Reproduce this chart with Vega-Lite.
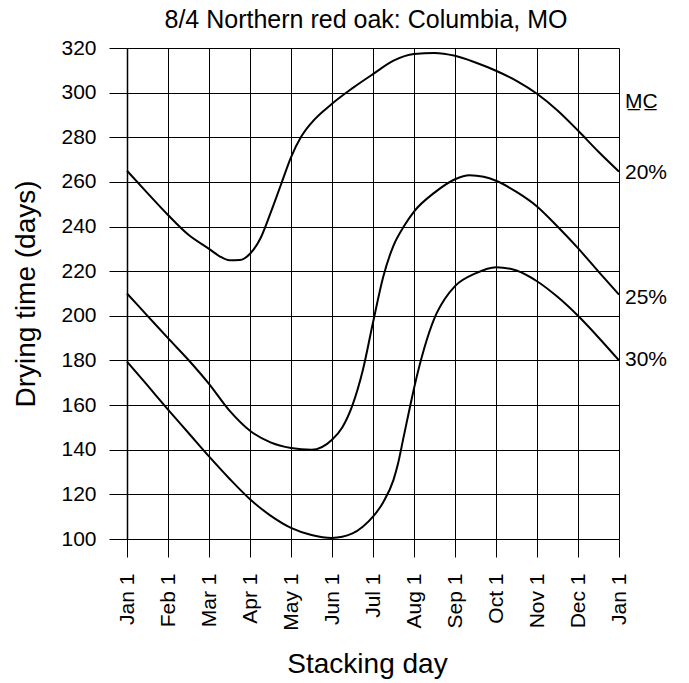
{
  "$schema": "https://vega.github.io/schema/vega-lite/v6.json",
  "width": 492,
  "height": 491,
  "autosize": "none",
  "padding": {"left": 127, "top": 48, "right": 70, "bottom": 144},
  "background": "white",
  "config": {"view": {"stroke": null}, "font": "Liberation Sans"},
  "title": {"text": "8/4 Northern red oak: Columbia, MO", "fontSize": 25, "fontWeight": "normal", "font": "Liberation Sans", "color": "black", "anchor": "middle", "baseline": "bottom", "offset": -21, "dx": -7},
  "datasets": {
    "curves": [
      {"mc": "20%", "month": 0, "days": 265},
      {"mc": "20%", "month": 0.5, "days": 255},
      {"mc": "20%", "month": 1, "days": 245.2},
      {"mc": "20%", "month": 1.5, "days": 236.3},
      {"mc": "20%", "month": 2, "days": 230},
      {"mc": "20%", "month": 2.25, "days": 226.8},
      {"mc": "20%", "month": 2.5, "days": 224.9},
      {"mc": "20%", "month": 2.75, "days": 225},
      {"mc": "20%", "month": 3, "days": 227.8},
      {"mc": "20%", "month": 3.25, "days": 234.5},
      {"mc": "20%", "month": 3.5, "days": 246},
      {"mc": "20%", "month": 3.75, "days": 258.5},
      {"mc": "20%", "month": 4, "days": 271},
      {"mc": "20%", "month": 4.25, "days": 280.3},
      {"mc": "20%", "month": 4.5, "days": 286.5},
      {"mc": "20%", "month": 5, "days": 295},
      {"mc": "20%", "month": 5.5, "days": 302},
      {"mc": "20%", "month": 6, "days": 308.3},
      {"mc": "20%", "month": 6.5, "days": 314.3},
      {"mc": "20%", "month": 7, "days": 317.3},
      {"mc": "20%", "month": 7.5, "days": 317.8},
      {"mc": "20%", "month": 8, "days": 316.5},
      {"mc": "20%", "month": 8.5, "days": 313.5},
      {"mc": "20%", "month": 9, "days": 309.8},
      {"mc": "20%", "month": 9.5, "days": 305.3},
      {"mc": "20%", "month": 10, "days": 299.5},
      {"mc": "20%", "month": 10.5, "days": 292},
      {"mc": "20%", "month": 11, "days": 283},
      {"mc": "20%", "month": 11.5, "days": 273.5},
      {"mc": "20%", "month": 12, "days": 264.6},
      {"mc": "25%", "month": 0, "days": 210},
      {"mc": "25%", "month": 0.5, "days": 200},
      {"mc": "25%", "month": 1, "days": 190},
      {"mc": "25%", "month": 1.5, "days": 180.2},
      {"mc": "25%", "month": 2, "days": 169.5},
      {"mc": "25%", "month": 2.5, "days": 157.5},
      {"mc": "25%", "month": 3, "days": 148.5},
      {"mc": "25%", "month": 3.5, "days": 143.3},
      {"mc": "25%", "month": 4, "days": 140.8},
      {"mc": "25%", "month": 4.5, "days": 140},
      {"mc": "25%", "month": 5, "days": 144.5},
      {"mc": "25%", "month": 5.25, "days": 150},
      {"mc": "25%", "month": 5.5, "days": 160},
      {"mc": "25%", "month": 5.75, "days": 175.5},
      {"mc": "25%", "month": 6, "days": 197},
      {"mc": "25%", "month": 6.25, "days": 217.5},
      {"mc": "25%", "month": 6.5, "days": 231.5},
      {"mc": "25%", "month": 6.75, "days": 240},
      {"mc": "25%", "month": 7, "days": 246.7},
      {"mc": "25%", "month": 7.5, "days": 255.2},
      {"mc": "25%", "month": 8, "days": 261.2},
      {"mc": "25%", "month": 8.35, "days": 263},
      {"mc": "25%", "month": 8.7, "days": 262.3},
      {"mc": "25%", "month": 9, "days": 260.5},
      {"mc": "25%", "month": 9.5, "days": 255.5},
      {"mc": "25%", "month": 10, "days": 249},
      {"mc": "25%", "month": 10.5, "days": 240},
      {"mc": "25%", "month": 11, "days": 230.3},
      {"mc": "25%", "month": 11.5, "days": 219.8},
      {"mc": "25%", "month": 12, "days": 209.5},
      {"mc": "30%", "month": 0, "days": 179.5},
      {"mc": "30%", "month": 0.5, "days": 168.8},
      {"mc": "30%", "month": 1, "days": 158},
      {"mc": "30%", "month": 1.5, "days": 147.5},
      {"mc": "30%", "month": 2, "days": 137},
      {"mc": "30%", "month": 2.5, "days": 127},
      {"mc": "30%", "month": 3, "days": 117.8},
      {"mc": "30%", "month": 3.5, "days": 110.5},
      {"mc": "30%", "month": 4, "days": 105},
      {"mc": "30%", "month": 4.5, "days": 101.8},
      {"mc": "30%", "month": 5, "days": 100.5},
      {"mc": "30%", "month": 5.5, "days": 102.5},
      {"mc": "30%", "month": 5.75, "days": 105.5},
      {"mc": "30%", "month": 6, "days": 110},
      {"mc": "30%", "month": 6.25, "days": 116.5},
      {"mc": "30%", "month": 6.5, "days": 126.5},
      {"mc": "30%", "month": 6.6, "days": 133},
      {"mc": "30%", "month": 6.75, "days": 146},
      {"mc": "30%", "month": 6.9, "days": 159},
      {"mc": "30%", "month": 7, "days": 167.5},
      {"mc": "30%", "month": 7.25, "days": 185.5},
      {"mc": "30%", "month": 7.5, "days": 199},
      {"mc": "30%", "month": 7.75, "days": 207.5},
      {"mc": "30%", "month": 8, "days": 213.3},
      {"mc": "30%", "month": 8.5, "days": 219},
      {"mc": "30%", "month": 9, "days": 221.8},
      {"mc": "30%", "month": 9.5, "days": 220.3},
      {"mc": "30%", "month": 10, "days": 215.5},
      {"mc": "30%", "month": 10.5, "days": 208.5},
      {"mc": "30%", "month": 11, "days": 200},
      {"mc": "30%", "month": 11.5, "days": 190.3},
      {"mc": "30%", "month": 12, "days": 180}
    ],
    "labels": [
      {"label": "M̲C̲", "month": 12, "days": 296},
      {"label": "20%", "month": 12, "days": 264},
      {"label": "25%", "month": 12, "days": 208},
      {"label": "30%", "month": 12, "days": 180}
    ]
  },
  "layer": [
    {
      "data": {"name": "curves"},
      "mark": {"type": "line", "color": "black", "strokeWidth": 2, "interpolate": "monotone"},
      "encoding": {
        "x": {
          "field": "month", "type": "quantitative",
          "scale": {"domain": [0, 12], "nice": false, "zero": false},
          "axis": {
            "values": [0, 0.5, 1, 1.5, 2, 2.5, 3, 3.5, 4, 4.5, 5, 5.5, 6, 6.5, 7, 7.5, 8, 8.5, 9, 9.5, 10, 10.5, 11, 11.5, 12],
            "labelExpr": "datum.value % 1 === 0 ? ['Jan','Feb','Mar','Apr','May','Jun','Jul','Aug','Sep','Oct','Nov','Dec','Jan'][datum.value] + ' 1' : ''",
            "labelAngle": -90, "labelAlign": "right", "labelBaseline": "middle",
            "labelPadding": 16, "labelFontSize": 21, "labelColor": "black", "labelFont": "Liberation Sans",
            "labelFlush": false, "labelOverlap": false, "labelBound": false,
            "tickSize": 18, "tickColor": "black", "tickWidth": 1,
            "grid": true, "gridColor": "black", "gridOpacity": 1, "gridWidth": 1,
            "domain": false,
            "title": "Stacking day", "titleFontSize": 28, "titleFontWeight": "normal", "titleColor": "black", "titleFont": "Liberation Sans",
            "titleX": 240, "titleY": 133, "titleBaseline": "alphabetic", "titleAnchor": "middle", "titleAlign": "center"
          }
        },
        "y": {
          "field": "days", "type": "quantitative",
          "scale": {"domain": [100, 320], "nice": false, "zero": false},
          "axis": {
            "values": [100, 110, 120, 130, 140, 150, 160, 170, 180, 190, 200, 210, 220, 230, 240, 250, 260, 270, 280, 290, 300, 310, 320],
            "labelExpr": "datum.value % 20 === 0 ? datum.label : ''",
            "labelPadding": 13, "labelFontSize": 21, "labelColor": "black", "labelFont": "Liberation Sans",
            "labelFlush": false, "labelOverlap": false, "labelBaseline": "middle",
            "tickSize": {"condition": {"test": "datum.value % 20 === 0", "value": 18}, "value": 10},
            "tickColor": "black", "tickWidth": 1,
            "grid": true, "gridColor": "black", "gridOpacity": 1, "gridWidth": 1,
            "domain": true, "domainColor": "black", "domainWidth": 1.5,
            "title": "Drying time (days)", "titleFontSize": 28, "titleFontWeight": "normal", "titleColor": "black", "titleFont": "Liberation Sans",
            "titleX": -93, "titleY": 245.5, "titleBaseline": "alphabetic", "titleAngle": -90, "titleAnchor": "middle", "titleAlign": "center"
          }
        },
        "detail": {"field": "mc", "type": "nominal"}
      }
    },
    {
      "data": {"name": "labels"},
      "mark": {"type": "text", "align": "left", "baseline": "middle", "dx": 6, "fontSize": 21, "color": "black", "font": "Liberation Sans"},
      "encoding": {
        "x": {"field": "month", "type": "quantitative"},
        "y": {"field": "days", "type": "quantitative"},
        "text": {"field": "label", "type": "nominal"}
      }
    }
  ]
}
